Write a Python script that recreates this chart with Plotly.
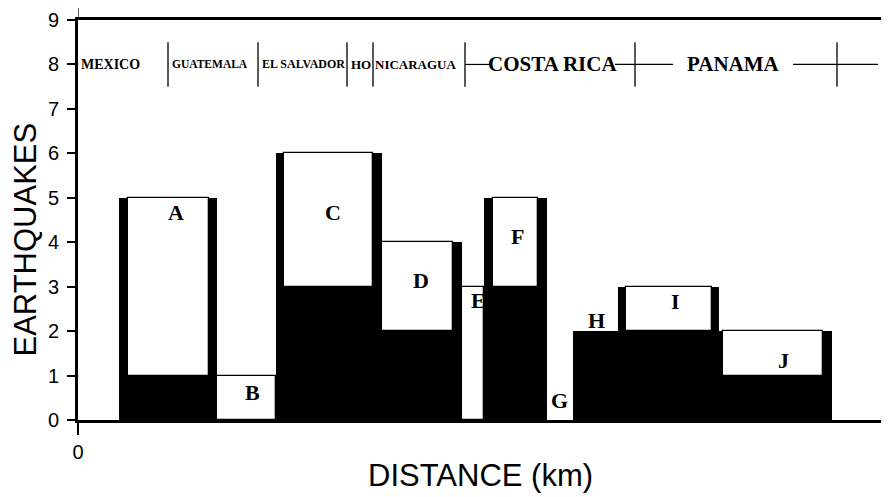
import plotly.graph_objects as go

# ---- data ----
bar_names = ["A", "B", "C", "D", "E", "F", "G", "H", "I", "J"]
seg_start = [82, 278, 396, 608, 768, 812, 938, 990, 1080, 1282]     # km
seg_end = [278, 396, 608, 768, 812, 938, 990, 1080, 1282, 1508]     # km
total_quakes = [5, 1, 6, 4, 3, 5, 0, 2, 3, 2]
black_quakes = [1, 0, 3, 2, 0, 3, 0, 2, 2, 1]
white_start = [100, 278, 412, 608, 768, 830, None, None, 1096, 1290]
white_end = [262, 396, 590, 750, 812, 920, None, None, 1268, 1490]
label_x = [196, 348, 510, 686, 800, 878, 962, 1036, 1194, 1410]
label_y = [4.66, 0.63, 4.66, 3.15, 2.7, 4.12, 0.45, 2.25, 2.66, 1.35]

countries = ["MEXICO", "GUATEMALA", "EL SALVADOR", "HO", "NICARAGUA", "COSTA RICA", "PANAMA"]
country_x = [64, 264, 450, 566, 676, 948, 1310]
country_size = [14, 11.5, 12, 13, 13, 21, 21]
border_x = [180, 360, 538, 590, 774, 1114, 1518]
connector_x0 = [774, 1074, 1430]
connector_x1 = [824, 1190, 1600]
country_row = 8

x_max = 1608
y_ticks = list(range(0, 10))

fig = go.Figure()

# black bars (full height)
fig.add_trace(go.Bar(
    x=[(a + b) / 2 for a, b in zip(seg_start, seg_end)],
    width=[b - a for a, b in zip(seg_start, seg_end)],
    y=total_quakes, base=0,
    marker=dict(color="black", line=dict(width=0)),
    hoverinfo="skip", showlegend=False))

# white windows
wx, ww, wy, wb = [], [], [], []
for s, e, t, lo in zip(white_start, white_end, total_quakes, black_quakes):
    if s is None or t - lo <= 0:
        continue
    wx.append((s + e) / 2)
    ww.append(e - s)
    wy.append(t - lo)
    wb.append(lo)
fig.add_trace(go.Bar(
    x=wx, width=ww, y=wy, base=wb,
    marker=dict(color="white", line=dict(width=1.3, color="black")),
    hoverinfo="skip", showlegend=False))

annotations = []
for n, lx, ly in zip(bar_names, label_x, label_y):
    annotations.append(dict(x=lx, y=ly, text="<b>%s</b>" % n, showarrow=False,
                            xref="x", yref="y",
                            font=dict(family="Liberation Serif", size=22, color="black")))
for c, cx, cs in zip(countries, country_x, country_size):
    annotations.append(dict(x=cx, y=country_row, text="<b>%s</b>" % c, showarrow=False,
                            xref="x", yref="y",
                            font=dict(family="Liberation Serif", size=cs, color="black")))

annotations.append(dict(x=0.5, y=-0.1375, xref="paper", yref="paper", text="DISTANCE (km)",
                        showarrow=False, yanchor="middle",
                        font=dict(family="Liberation Sans", size=31, color="black")))
annotations.append(dict(x=-0.0665, y=0.45, xref="paper", yref="paper", text="EARTHQUAKES",
                        showarrow=False, textangle=-90, xanchor="center",
                        font=dict(family="Liberation Sans", size=31, color="black")))

shapes = []
for bx in border_x:
    shapes.append(dict(type="line", xref="x", yref="y", x0=bx, x1=bx,
                       y0=country_row - 0.5, y1=country_row + 0.5,
                       line=dict(color="black", width=1.3)))
for a, b in zip(connector_x0, connector_x1):
    shapes.append(dict(type="line", xref="x", yref="y", x0=a, x1=b,
                       y0=country_row, y1=country_row, line=dict(color="black", width=1.2)))
# left axis overshoot at top
shapes.append(dict(type="line", xref="x", yref="paper", x0=0, x1=0, y0=1, y1=1.03,
                   line=dict(color="black", width=1.2)))

# page has an 8 px body margin, so the figure is sized to fit inside the window
fig.update_layout(
    width=881, height=489,
    margin=dict(l=70, r=7, t=12, b=77, autoexpand=False),
    paper_bgcolor="white", plot_bgcolor="white",
    barmode="overlay", bargap=0,
    annotations=annotations, shapes=shapes,
    xaxis=dict(range=[0, x_max], tickvals=[0], ticktext=["0"], ticks="outside",
               ticklen=12, tickwidth=2, tickcolor="black", automargin=False,
               showline=True, linecolor="black", linewidth=2.5, mirror=True,
               showgrid=False, zeroline=False, ticklabelstandoff=0,
               tickfont=dict(family="Liberation Sans", size=20, color="black")),
    yaxis=dict(range=[0, 9], tickvals=y_ticks, ticks="outside", ticklen=8, tickwidth=1.5,
               tickcolor="black", showline=True, linecolor="black", linewidth=3,
               mirror="ticks", showgrid=False, zeroline=False, automargin=False,
               ticklabelstandoff=4,
               tickfont=dict(family="Liberation Sans", size=20, color="black")),
)

fig.write_html("out.html")
